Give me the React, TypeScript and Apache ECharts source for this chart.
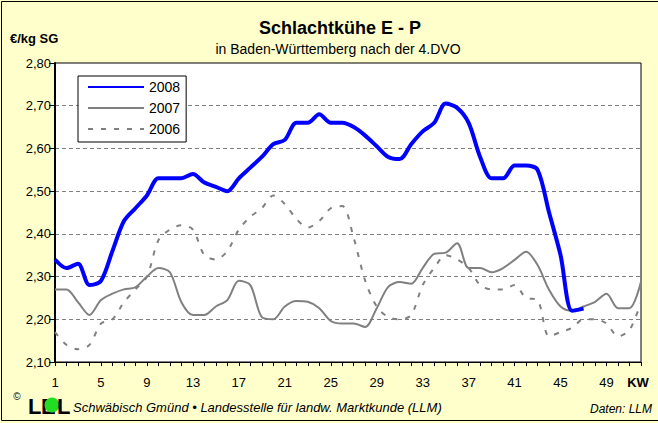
import React, { useEffect, useRef } from "react";
import * as echarts from "echarts";

const weeks = [
  "1", "2", "3", "4", "5", "6", "7", "8", "9", "10", "11", "12", "13",
  "14", "15", "16", "17", "18", "19", "20", "21", "22", "23", "24", "25", "26",
  "27", "28", "29", "30", "31", "32", "33", "34", "35", "36", "37", "38", "39",
  "40", "41", "42", "43", "44", "45", "46", "47", "48", "49", "50", "51", "52",
];

const y2008 = [
  2.34, 2.32, 2.33, 2.28, 2.29, 2.36, 2.43, 2.46, 2.49, 2.53,
  2.53, 2.53, 2.54, 2.52, 2.51, 2.50, 2.53, 2.555, 2.58, 2.61,
  2.62, 2.66, 2.66, 2.68, 2.66, 2.66, 2.65, 2.63, 2.605, 2.58,
  2.575, 2.61, 2.64, 2.66, 2.705, 2.695, 2.66, 2.58, 2.53, 2.53,
  2.56, 2.56, 2.55, 2.45, 2.35, 2.22, 2.225,
];

const y2007 = [
  2.27, 2.27, 2.24, 2.21, 2.245, 2.26, 2.27, 2.275, 2.30, 2.32,
  2.31, 2.24, 2.21, 2.21, 2.23, 2.245, 2.29, 2.28, 2.205, 2.20,
  2.23, 2.243, 2.241, 2.226, 2.196, 2.19, 2.19, 2.182, 2.226, 2.276,
  2.287, 2.283, 2.32, 2.353, 2.356, 2.378, 2.32, 2.32, 2.31, 2.32,
  2.339, 2.358, 2.327, 2.269, 2.23, 2.22, 2.23, 2.241, 2.26, 2.226,
  2.226, 2.288,
];

const y2006 = [
  2.17, 2.14, 2.13, 2.14, 2.19, 2.20, 2.24, 2.27, 2.30, 2.385,
  2.41, 2.42, 2.41, 2.35, 2.34, 2.36, 2.41, 2.44, 2.46, 2.49,
  2.47, 2.435, 2.415, 2.43, 2.46, 2.465, 2.39, 2.29, 2.23, 2.205,
  2.20, 2.21, 2.28, 2.32, 2.35, 2.34, 2.32, 2.28, 2.27, 2.27,
  2.28, 2.25, 2.245, 2.16, 2.17, 2.18, 2.20, 2.20, 2.19, 2.16,
  2.175, 2.24,
];

const seriesNames = ["2008", "2007", "2006"];

const FONT = "Arial, 'Liberation Sans', sans-serif";

export default function App() {
  const ref = useRef<HTMLDivElement>(null);

  useEffect(() => {
    if (!ref.current) return;
    const chart = echarts.init(ref.current, null, { renderer: "svg" });
    chart.setOption({
      animation: false,
      backgroundColor: "#FFFFCC",
      textStyle: { fontFamily: FONT },
      grid: {
        left: 55,
        right: 17,
        top: 63,
        bottom: 61,
        show: true,
        backgroundColor: "#FFFFFF",
        borderColor: "#000000",
        borderWidth: 1,
      },
      legend: {
        data: seriesNames,
        orient: "vertical",
        left: 78,
        top: 76,
        backgroundColor: "#FFFFFF",
        borderColor: "#000000",
        borderWidth: 1,
        borderRadius: 0,
        padding: [4, 6, 6, 9],
        itemWidth: 56,
        itemHeight: 14,
        itemGap: 7,
        itemStyle: { opacity: 0 },
        textStyle: { fontSize: 14, color: "#000000", fontFamily: FONT },
      },
      xAxis: {
        type: "category",
        data: weeks,
        boundaryGap: false,
        axisLine: { lineStyle: { color: "#000000", width: 1 } },
        axisTick: { show: true, interval: 0, length: 4, lineStyle: { color: "#000000" } },
        axisLabel: { interval: 3, color: "#000000", fontSize: 13, margin: 14, fontFamily: FONT },
        splitLine: { show: false },
      },
      yAxis: {
        type: "value",
        min: 2.1,
        max: 2.8,
        interval: 0.1,
        axisLine: { show: true, lineStyle: { color: "#000000", width: 2 } },
        axisTick: { show: true, length: 6, lineStyle: { color: "#000000" } },
        axisLabel: {
          color: "#000000",
          fontSize: 13,
          margin: 4,
          fontFamily: FONT,
          formatter: (v: number) => v.toFixed(2).replace(".", ","),
        },
        splitLine: {
          show: true,
          showMinLine: false,
          showMaxLine: false,
          lineStyle: { color: "#808080", width: 1, type: [4, 3] },
        },
      },
      series: [
        {
          name: "2006",
          type: "line",
          data: y2006,
          smooth: 0.3,
          symbol: "none",
          lineStyle: { color: "#808080", width: 2, type: [5, 8] },
          itemStyle: { color: "#808080" },
          z: 2,
        },
        {
          name: "2007",
          type: "line",
          data: y2007,
          smooth: 0.3,
          symbol: "none",
          lineStyle: { color: "#808080", width: 2 },
          itemStyle: { color: "#808080" },
          z: 3,
        },
        {
          name: "2008",
          type: "line",
          data: y2008,
          smooth: 0.3,
          symbol: "none",
          lineStyle: { color: "#0000FF", width: 4 },
          itemStyle: { color: "#0000FF" },
          z: 4,
        },
      ],
      graphic: [
        {
          type: "rect",
          silent: true,
          z: 100,
          shape: { x: 1.5, y: 1.5, width: 670, height: 419 },
          style: { fill: "none", stroke: "#000000", lineWidth: 1 },
        },
        {
          type: "text",
          x: 340,
          y: 28,
          style: {
            text: "Schlachtkühe E - P",
            font: `bold 18px ${FONT}`,
            fill: "#000000",
            textAlign: "center",
            textVerticalAlign: "middle",
          },
        },
        {
          type: "text",
          x: 338,
          y: 49,
          style: {
            text: "in Baden-Württemberg nach der 4.DVO",
            font: `14px ${FONT}`,
            fill: "#000000",
            textAlign: "center",
            textVerticalAlign: "middle",
          },
        },
        {
          type: "text",
          x: 10,
          y: 38,
          style: {
            text: "€/kg SG",
            font: `bold 13px ${FONT}`,
            fill: "#000000",
            textAlign: "left",
            textVerticalAlign: "middle",
          },
        },
        {
          type: "text",
          x: 638,
          y: 382,
          style: {
            text: "KW",
            font: `bold 13px ${FONT}`,
            fill: "#000000",
            textAlign: "center",
            textVerticalAlign: "middle",
          },
        },
        {
          type: "text",
          x: 17,
          y: 396,
          style: {
            text: "©",
            font: `10px ${FONT}`,
            fill: "#000000",
            textAlign: "center",
            textVerticalAlign: "middle",
          },
        },
        {
          type: "text",
          x: 28,
          y: 406,
          style: {
            text: "L",
            font: `bold 22px ${FONT}`,
            fill: "#000000",
            textAlign: "left",
            textVerticalAlign: "middle",
          },
        },
        {
          type: "text",
          x: 41,
          y: 406,
          style: {
            text: "E",
            font: `bold 22px ${FONT}`,
            fill: "#000000",
            textAlign: "left",
            textVerticalAlign: "middle",
          },
        },
        {
          type: "circle",
          shape: { cx: 52, cy: 405, r: 7.5 },
          style: { fill: "#22DD22", stroke: "none" },
        },
        {
          type: "text",
          x: 57,
          y: 406,
          style: {
            text: "L",
            font: `bold 22px ${FONT}`,
            fill: "#000000",
            textAlign: "left",
            textVerticalAlign: "middle",
          },
        },
        {
          type: "text",
          x: 73,
          y: 407,
          style: {
            text: "Schwäbisch Gmünd • Landesstelle für landw. Marktkunde (LLM)",
            font: `italic 13px ${FONT}`,
            fill: "#000000",
            textAlign: "left",
            textVerticalAlign: "middle",
          },
        },
        {
          type: "text",
          x: 590,
          y: 409,
          style: {
            text: "Daten: LLM",
            font: `italic 12px ${FONT}`,
            fill: "#000000",
            textAlign: "left",
            textVerticalAlign: "middle",
          },
        },
      ],
    });
    return () => chart.dispose();
  }, []);

  return (
    <div
      ref={ref}
      style={{ position: "fixed", left: 0, top: 0, width: 658, height: 423 }}
    />
  );
}
